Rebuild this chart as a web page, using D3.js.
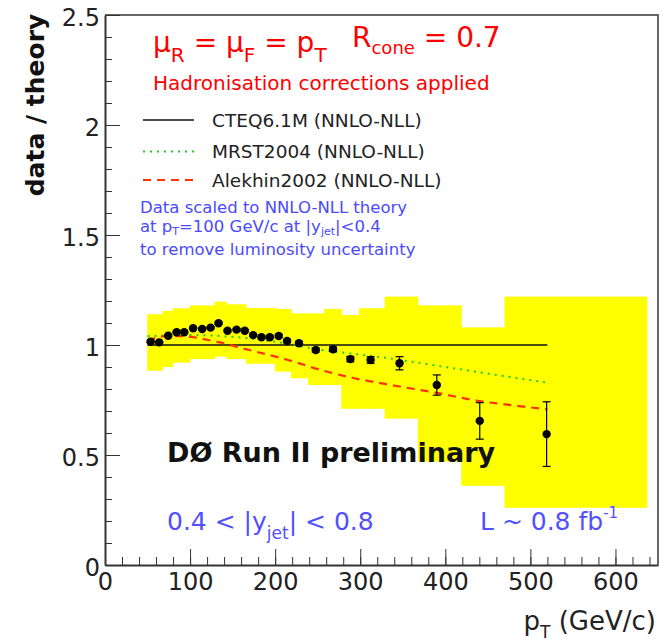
<!DOCTYPE html>
<html><head><meta charset="utf-8">
<script src="https://cdn.jsdelivr.net/npm/d3@7"></script>
<style>body{margin:0;background:#fff}svg{display:block}text{font-family:"DejaVu Sans",sans-serif}</style>
</head><body>
<script>
// ---- data ----
const ptData   = [53.6, 63.7, 74.3, 84.2, 93.1, 103.6, 114.2, 124.1, 133.5, 144, 154.6, 164.3, 174.1, 183.9, 193.7, 204.2, 214, 228, 247.7, 268, 288.4, 312.2, 346.2, 390, 440.5, 519.1];
const ratio    = [1.015, 1.012, 1.042, 1.058, 1.058, 1.076, 1.073, 1.079, 1.099, 1.065, 1.07, 1.065, 1.045, 1.035, 1.035, 1.041, 1.018, 1.008, 0.977, 0.981, 0.936, 0.932, 0.917, 0.818, 0.655, 0.595];
const ratioErr = [0.004, 0.004, 0.004, 0.004, 0.004, 0.004, 0.004, 0.004, 0.005, 0.005, 0.005, 0.005, 0.006, 0.006, 0.006, 0.007, 0.008, 0.008, 0.009, 0.010, 0.012, 0.015, 0.030, 0.046, 0.083, 0.147];

const cteqPt    = [50, 520];
const cteqRatio = [1.0, 1.0];
const mrstPt    = [50, 100, 150, 200, 250, 320, 400, 470, 520];
const mrstRatio = [1.04, 1.045, 1.037, 1.015, 0.98, 0.947, 0.90, 0.858, 0.829];
const alekhinPt    = [50, 75, 92, 108, 127, 143, 158, 174, 215, 254, 293, 329, 393, 440, 475, 520];
const alekhinRatio = [1.02, 1.042, 1.04, 1.033, 1.018, 1.005, 0.988, 0.973, 0.932, 0.886, 0.849, 0.823, 0.78, 0.745, 0.728, 0.707];

// systematic uncertainty band (bin edges in pT, low/high ratio)
const bandX0   = [50, 68, 80, 100, 129, 143, 166, 200, 219, 239, 258, 278, 299, 329, 368, 419, 470];
const bandX1   = [68, 80, 100, 129, 143, 166, 200, 219, 239, 258, 278, 299, 329, 368, 419, 470, 637];
const bandLow  = [0.883, 0.90, 0.92, 0.936, 0.947, 0.936, 0.915, 0.879, 0.849, 0.818, 0.818, 0.71, 0.71, 0.665, 0.47, 0.36, 0.26];
const bandHigh = [1.14, 1.155, 1.167, 1.18, 1.197, 1.185, 1.168, 1.164, 1.144, 1.144, 1.164, 1.136, 1.167, 1.22, 1.18, 1.08, 1.22];

const xTicks = [0, 100, 200, 300, 400, 500, 600];
const xTickLabels = ["0", "100", "200", "300", "400", "500", "600"];
const yTicks = [0, 0.5, 1, 1.5, 2, 2.5];
const yTickLabels = ["0", "0.5", "1", "1.5", "2", "2.5"];

const legendNames = ["CTEQ6.1M (NNLO-NLL)", "MRST2004 (NNLO-NLL)", "Alekhin2002 (NNLO-NLL)"];

// ---- drawing ----
const W = 665, H = 642;
const svg = d3.select("body").append("svg").attr("width", W).attr("height", H);
const x = d3.scaleLinear().domain([0, 650]).range([105, 658]);
const y = d3.scaleLinear().domain([0, 2.5]).range([565, 15]);

// band
svg.append("g").selectAll("rect").data(bandX0.map((d, i) => i)).join("rect")
  .attr("x", i => x(bandX0[i]) - 0.3)
  .attr("width", i => x(bandX1[i]) - x(bandX0[i]) + 0.6)
  .attr("y", i => y(bandHigh[i]))
  .attr("height", i => y(bandLow[i]) - y(bandHigh[i]))
  .attr("fill", "#ffff00");

// theory curves
const line = d3.line().x(d => x(d[0])).y(d => y(d[1]));
const smooth = d3.line().curve(d3.curveMonotoneX).x(d => x(d[0])).y(d => y(d[1]));
svg.append("path").datum(cteqPt.map((p, i) => [p, cteqRatio[i]])).attr("d", line)
  .attr("fill", "none").attr("stroke", "#111").attr("stroke-width", 1.3);
svg.append("path").datum(mrstPt.map((p, i) => [p, mrstRatio[i]])).attr("d", smooth)
  .attr("fill", "none").attr("stroke", "#22cc22").attr("stroke-width", 2).attr("stroke-dasharray", "2,5");
svg.append("path").datum(alekhinPt.map((p, i) => [p, alekhinRatio[i]])).attr("d", smooth)
  .attr("fill", "none").attr("stroke", "#ff3300").attr("stroke-width", 2.2).attr("stroke-dasharray", "8,6");

// data points with error bars
const pts = svg.append("g");
ptData.forEach((p, i) => {
  const cx = x(p), y0 = y(ratio[i] - ratioErr[i]), y1 = y(ratio[i] + ratioErr[i]);
  pts.append("line").attr("x1", cx).attr("x2", cx).attr("y1", y0).attr("y2", y1).attr("stroke", "#000").attr("stroke-width", 1.2);
  pts.append("line").attr("x1", cx - 4).attr("x2", cx + 4).attr("y1", y0).attr("y2", y0).attr("stroke", "#000").attr("stroke-width", 1.2);
  pts.append("line").attr("x1", cx - 4).attr("x2", cx + 4).attr("y1", y1).attr("y2", y1).attr("stroke", "#000").attr("stroke-width", 1.2);
  pts.append("circle").attr("cx", cx).attr("cy", y(ratio[i])).attr("r", 4.2).attr("fill", "#000");
});

// frame (top, right)
svg.append("path").attr("d", `M${x(0)},${y(2.5)}H${x(650)}V${y(0)}`).attr("fill", "none").attr("stroke", "#666").attr("stroke-width", 2);

// axes
const axColor = "#333";
svg.append("g").attr("transform", `translate(0,${y(0)})`).style("color", axColor)
  .call(d3.axisBottom(x).tickValues(d3.range(0, 651, 20)).tickSize(-8).tickFormat(""))
  .call(g => g.select(".domain").remove());
const gx = svg.append("g").attr("transform", `translate(0,${y(0)})`).style("color", axColor)
  .call(d3.axisBottom(x).tickValues(xTicks).tickFormat((d, i) => xTickLabels[i]).tickSizeInner(-16).tickSizeOuter(0).tickPadding(8));
gx.select(".domain").attr("stroke-width", 2);
gx.selectAll("text").attr("font-size", 24).attr("font-family", "DejaVu Sans").attr("fill", "#222");

svg.append("g").attr("transform", `translate(${x(0)},0)`).style("color", axColor)
  .call(d3.axisLeft(y).tickValues(d3.range(0, 26, 1).map(v => v / 10)).tickSize(-7).tickFormat(""))
  .call(g => g.select(".domain").remove());
const gy = svg.append("g").attr("transform", `translate(${x(0)},0)`).style("color", axColor)
  .call(d3.axisLeft(y).tickValues(yTicks).tickFormat((d, i) => yTickLabels[i]).tickSizeInner(-15).tickSizeOuter(0).tickPadding(5));
gy.select(".domain").attr("stroke-width", 2);
gy.selectAll("text").attr("font-size", 24).attr("font-family", "DejaVu Sans").attr("fill", "#222").attr("dy", "0.42em");

// axis titles
svg.append("text").attr("transform", "translate(44,105) rotate(-90)").attr("text-anchor", "middle")
  .attr("font-size", 25).attr("font-weight", "bold").attr("fill", "#111").text("data / theory");
const xt = svg.append("text").attr("x", 656).attr("y", 630).attr("text-anchor", "end").attr("font-size", 26).attr("fill", "#222");
xt.append("tspan").text("p");
xt.append("tspan").attr("font-size", 17).attr("dy", 8).text("T");
xt.append("tspan").attr("dy", -8).text(" (GeV/c)");

// red header
const red = "#ff0000";
const t1 = svg.append("text").attr("x", 153).attr("y", 52).attr("font-size", 28).attr("fill", red);
t1.append("tspan").text("μ");
t1.append("tspan").attr("font-size", 20).attr("dy", 10).text("R");
t1.append("tspan").attr("dy", -10).text(" = μ");
t1.append("tspan").attr("font-size", 20).attr("dy", 10).text("F");
t1.append("tspan").attr("dy", -10).text(" = p");
t1.append("tspan").attr("font-size", 20).attr("dy", 10).text("T");
const t2 = svg.append("text").attr("x", 352).attr("y", 47).attr("font-size", 28).attr("fill", red);
t2.append("tspan").text("R");
t2.append("tspan").attr("font-size", 18).attr("dy", 7).text("cone");
t2.append("tspan").attr("dy", -7).text(" = 0.7");
svg.append("text").attr("x", 153).attr("y", 90).attr("font-size", 20).attr("fill", red).text("Hadronisation corrections applied");

// legend
const legY = [120, 151.5, 180];
const legBase = [127, 158, 187];
const legStyles = [
  {stroke: "#111", w: 1.3, dash: null},
  {stroke: "#22cc22", w: 2, dash: "2,5"},
  {stroke: "#ff3300", w: 2.2, dash: "8,6"}
];
legendNames.forEach((n, i) => {
  svg.append("line").attr("x1", 143).attr("x2", 194).attr("y1", legY[i]).attr("y2", legY[i])
    .attr("stroke", legStyles[i].stroke).attr("stroke-width", legStyles[i].w).attr("stroke-dasharray", legStyles[i].dash);
  svg.append("text").attr("x", 212).attr("y", legBase[i]).attr("font-size", 18.5).attr("fill", "#222").text(n);
});

// blue note
const blue = "#4a4aff";
svg.append("text").attr("x", 140).attr("y", 213).attr("font-size", 16.5).attr("fill", blue).text("Data scaled to NNLO-NLL theory");
const b2 = svg.append("text").attr("x", 140).attr("y", 232).attr("font-size", 16.5).attr("fill", blue);
b2.append("tspan").text("at p");
b2.append("tspan").attr("font-size", 11).attr("dy", 3).text("T");
b2.append("tspan").attr("dy", -3).text("=100 GeV/c at |y");
b2.append("tspan").attr("font-size", 11).attr("dy", 3).text("jet");
b2.append("tspan").attr("dy", -3).text("|<0.4");
svg.append("text").attr("x", 140).attr("y", 255).attr("font-size", 16.5).attr("fill", blue).text("to remove luminosity uncertainty");

// D0 label
svg.append("text").attr("x", 167).attr("y", 462).attr("font-size", 27).attr("font-weight", "bold").attr("fill", "#111").text("DØ Run II preliminary");

// rapidity & luminosity
const blue2 = "#5050ff";
const r1 = svg.append("text").attr("x", 167).attr("y", 530).attr("font-size", 25).attr("fill", blue2);
r1.append("tspan").text("0.4 < |y");
r1.append("tspan").attr("font-size", 17).attr("dy", 9).text("jet");
r1.append("tspan").attr("dy", -9).text("| < 0.8");
const l1 = svg.append("text").attr("x", 480).attr("y", 530).attr("font-size", 25).attr("fill", blue2);
l1.append("tspan").text("L ~ 0.8 fb");
l1.append("tspan").attr("font-size", 15).attr("dy", -12).text("-1");
</script>
</body></html>
